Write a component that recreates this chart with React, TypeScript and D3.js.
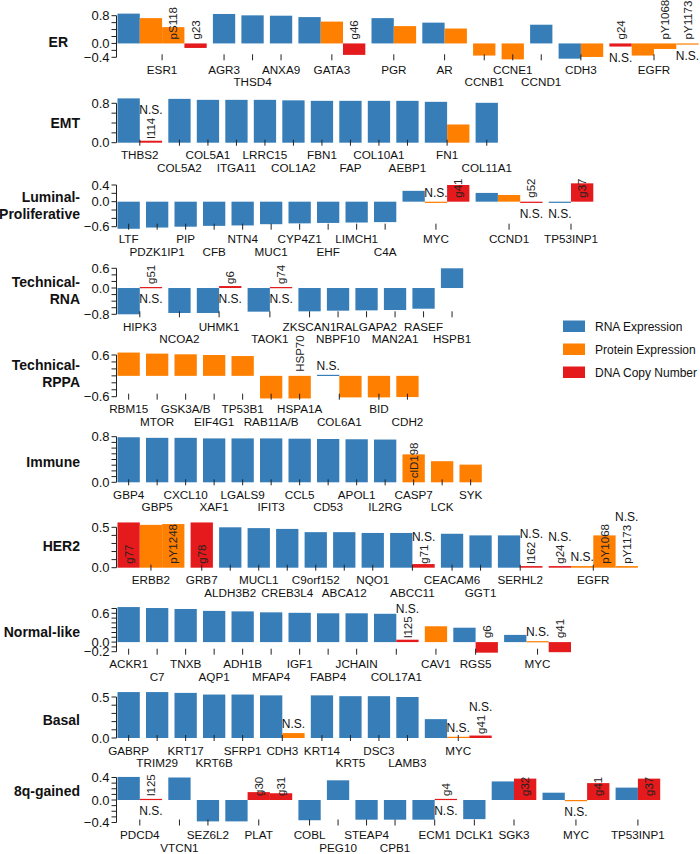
import React from "react";
import * as d3 from "d3";

type Kind = "RNA" | "Protein" | "DNA";
interface Bar { gene: string; kind: Kind; value: number; note?: string; ns?: "up" | "down"; }

// ---------------- DATA ----------------
const erGenes = ["ESR1", "AGR3", "THSD4", "ANXA9", "GATA3", "PGR", "AR", "CCNB1", "CCNE1", "CCND1", "CDH3", "EGFR"];
const erBars: Bar[] = [
  { gene: "ESR1", kind: "RNA", value: 0.86 },
  { gene: "ESR1", kind: "Protein", value: 0.73 },
  { gene: "ESR1", kind: "Protein", value: 0.47, note: "pS118" },
  { gene: "ESR1", kind: "DNA", value: -0.13, note: "g23" },
  { gene: "AGR3", kind: "RNA", value: 0.85 },
  { gene: "THSD4", kind: "RNA", value: 0.81 },
  { gene: "ANXA9", kind: "RNA", value: 0.8 },
  { gene: "GATA3", kind: "RNA", value: 0.76 },
  { gene: "GATA3", kind: "Protein", value: 0.63 },
  { gene: "GATA3", kind: "DNA", value: -0.33, note: "g46" },
  { gene: "PGR", kind: "RNA", value: 0.73 },
  { gene: "PGR", kind: "Protein", value: 0.5 },
  { gene: "AR", kind: "RNA", value: 0.6 },
  { gene: "AR", kind: "Protein", value: 0.43 },
  { gene: "CCNB1", kind: "Protein", value: -0.35 },
  { gene: "CCNE1", kind: "Protein", value: -0.46 },
  { gene: "CCND1", kind: "RNA", value: 0.54 },
  { gene: "CDH3", kind: "RNA", value: -0.44 },
  { gene: "CDH3", kind: "Protein", value: -0.39 },
  { gene: "EGFR", kind: "DNA", value: -0.09, note: "g24", ns: "down" },
  { gene: "EGFR", kind: "Protein", value: -0.35 },
  { gene: "EGFR", kind: "Protein", value: -0.16, note: "pY1068" },
  { gene: "EGFR", kind: "Protein", value: -0.03, note: "pY1173", ns: "down" },
];
const erTicks = [-0.4, -0.2, 0, 0.2, 0.4, 0.6, 0.8];
const erTickLabels = [-0.4, 0, 0.8];
const erLowerLabels = ["THSD4", "CCNB1", "CCND1"];

const emtGenes = ["THBS2", "COL5A2", "COL5A1", "ITGA11", "LRRC15", "COL1A2", "FBN1", "FAP", "COL10A1", "AEBP1", "FN1", "COL11A1"];
const emtBars: Bar[] = [
  { gene: "THBS2", kind: "RNA", value: 0.9 },
  { gene: "THBS2", kind: "DNA", value: 0.04, note: "l114", ns: "up" },
  { gene: "COL5A2", kind: "RNA", value: 0.89 },
  { gene: "COL5A1", kind: "RNA", value: 0.87 },
  { gene: "ITGA11", kind: "RNA", value: 0.87 },
  { gene: "LRRC15", kind: "RNA", value: 0.87 },
  { gene: "COL1A2", kind: "RNA", value: 0.86 },
  { gene: "FBN1", kind: "RNA", value: 0.85 },
  { gene: "FAP", kind: "RNA", value: 0.85 },
  { gene: "COL10A1", kind: "RNA", value: 0.85 },
  { gene: "AEBP1", kind: "RNA", value: 0.85 },
  { gene: "FN1", kind: "RNA", value: 0.83 },
  { gene: "FN1", kind: "Protein", value: 0.37 },
  { gene: "COL11A1", kind: "RNA", value: 0.81 },
];
const emtTicks = [0, 0.2, 0.4, 0.6, 0.8];
const emtTickLabels = [0, 0.8];
const emtLowerLabels = ["COL5A2", "ITGA11", "COL1A2", "FAP", "AEBP1", "COL11A1"];

const lumGenes = ["LTF", "PDZK1IP1", "PIP", "CFB", "NTN4", "MUC1", "CYP4Z1", "EHF", "LIMCH1", "C4A", "MYC", "CCND1", "TP53INP1"];
const lumBars: Bar[] = [
  { gene: "LTF", kind: "RNA", value: -0.65 },
  { gene: "PDZK1IP1", kind: "RNA", value: -0.62 },
  { gene: "PIP", kind: "RNA", value: -0.6 },
  { gene: "CFB", kind: "RNA", value: -0.58 },
  { gene: "NTN4", kind: "RNA", value: -0.57 },
  { gene: "MUC1", kind: "RNA", value: -0.54 },
  { gene: "CYP4Z1", kind: "RNA", value: -0.52 },
  { gene: "EHF", kind: "RNA", value: -0.51 },
  { gene: "LIMCH1", kind: "RNA", value: -0.5 },
  { gene: "C4A", kind: "RNA", value: -0.49 },
  { gene: "MYC", kind: "RNA", value: 0.26 },
  { gene: "MYC", kind: "Protein", value: -0.03, ns: "up" },
  { gene: "MYC", kind: "DNA", value: 0.4, note: "g41" },
  { gene: "CCND1", kind: "RNA", value: 0.21 },
  { gene: "CCND1", kind: "Protein", value: 0.16 },
  { gene: "CCND1", kind: "DNA", value: -0.03, note: "g52", ns: "down" },
  { gene: "TP53INP1", kind: "RNA", value: -0.02, ns: "down" },
  { gene: "TP53INP1", kind: "DNA", value: 0.44, note: "g37" },
];
const lumTicks = [-0.6, -0.4, -0.2, 0, 0.2, 0.4];
const lumTickLabels = [-0.6, 0, 0.4];
const lumLowerLabels = ["PDZK1IP1", "CFB", "MUC1", "EHF", "C4A"];

const rnaGenes = ["HIPK3", "NCOA2", "UHMK1", "TAOK1", "ZKSCAN1", "NBPF10", "RALGAPA2", "MAN2A1", "RASEF", "HSPB1"];
const rnaBars: Bar[] = [
  { gene: "HIPK3", kind: "RNA", value: -0.8 },
  { gene: "HIPK3", kind: "DNA", value: 0.03, note: "g51", ns: "down" },
  { gene: "NCOA2", kind: "RNA", value: -0.76 },
  { gene: "UHMK1", kind: "RNA", value: -0.76 },
  { gene: "UHMK1", kind: "DNA", value: 0.06, note: "g6", ns: "down" },
  { gene: "TAOK1", kind: "RNA", value: -0.72 },
  { gene: "TAOK1", kind: "DNA", value: 0.03, note: "g74", ns: "down" },
  { gene: "ZKSCAN1", kind: "RNA", value: -0.71 },
  { gene: "NBPF10", kind: "RNA", value: -0.69 },
  { gene: "RALGAPA2", kind: "RNA", value: -0.68 },
  { gene: "MAN2A1", kind: "RNA", value: -0.67 },
  { gene: "RASEF", kind: "RNA", value: -0.63 },
  { gene: "HSPB1", kind: "RNA", value: 0.6 },
];
const rnaTicks = [-0.8, -0.6, -0.4, -0.2, 0, 0.2, 0.4, 0.6];
const rnaTickLabels = [-0.8, 0, 0.6];
const rnaLowerLabels = ["NCOA2", "TAOK1", "NBPF10", "MAN2A1", "HSPB1"];

const rppaGenes = ["RBM15", "MTOR", "GSK3A/B", "EIF4G1", "TP53B1", "RAB11A/B", "HSPA1A", "COL6A1", "BID", "CDH2"];
const rppaBars: Bar[] = [
  { gene: "RBM15", kind: "Protein", value: 0.67 },
  { gene: "MTOR", kind: "Protein", value: 0.64 },
  { gene: "GSK3A/B", kind: "Protein", value: 0.62 },
  { gene: "EIF4G1", kind: "Protein", value: 0.6 },
  { gene: "TP53B1", kind: "Protein", value: 0.57 },
  { gene: "RAB11A/B", kind: "Protein", value: -0.65 },
  { gene: "HSPA1A", kind: "Protein", value: -0.65, note: "HSP70" },
  { gene: "COL6A1", kind: "RNA", value: 0.03, ns: "up" },
  { gene: "COL6A1", kind: "Protein", value: -0.62 },
  { gene: "BID", kind: "Protein", value: -0.62 },
  { gene: "CDH2", kind: "Protein", value: -0.61 },
];
const rppaTicks = [-0.6, -0.4, -0.2, 0, 0.2, 0.4, 0.6];
const rppaTickLabels = [-0.6, 0.6];
const rppaLowerLabels = ["MTOR", "EIF4G1", "RAB11A/B", "COL6A1", "CDH2"];

const immGenes = ["GBP4", "GBP5", "CXCL10", "XAF1", "LGALS9", "IFIT3", "CCL5", "CD53", "APOL1", "IL2RG", "CASP7", "LCK", "SYK"];
const immBars: Bar[] = [
  { gene: "GBP4", kind: "RNA", value: 0.79 },
  { gene: "GBP5", kind: "RNA", value: 0.78 },
  { gene: "CXCL10", kind: "RNA", value: 0.78 },
  { gene: "XAF1", kind: "RNA", value: 0.77 },
  { gene: "LGALS9", kind: "RNA", value: 0.77 },
  { gene: "IFIT3", kind: "RNA", value: 0.77 },
  { gene: "CCL5", kind: "RNA", value: 0.765 },
  { gene: "CD53", kind: "RNA", value: 0.76 },
  { gene: "APOL1", kind: "RNA", value: 0.755 },
  { gene: "IL2RG", kind: "RNA", value: 0.75 },
  { gene: "CASP7", kind: "Protein", value: 0.49, note: "clD198" },
  { gene: "LCK", kind: "Protein", value: 0.37 },
  { gene: "SYK", kind: "Protein", value: 0.31 },
];
const immTicks = [0, 0.1, 0.2, 0.3, 0.4, 0.5, 0.6, 0.7, 0.8];
const immTickLabels = [0, 0.8];
const immLowerLabels = ["GBP5", "XAF1", "IFIT3", "CD53", "IL2RG", "LCK"];

const her2Genes = ["ERBB2", "GRB7", "ALDH3B2", "MUCL1", "CREB3L4", "C9orf152", "ABCA12", "NQO1", "ABCC11", "CEACAM6", "GGT1", "SERHL2", "EGFR"];
const her2Bars: Bar[] = [
  { gene: "ERBB2", kind: "DNA", value: 0.56, note: "g77" },
  { gene: "ERBB2", kind: "Protein", value: 0.53 },
  { gene: "ERBB2", kind: "Protein", value: 0.54, note: "pY1248" },
  { gene: "GRB7", kind: "DNA", value: 0.56, note: "g78" },
  { gene: "ALDH3B2", kind: "RNA", value: 0.5 },
  { gene: "MUCL1", kind: "RNA", value: 0.49 },
  { gene: "CREB3L4", kind: "RNA", value: 0.48 },
  { gene: "C9orf152", kind: "RNA", value: 0.44 },
  { gene: "ABCA12", kind: "RNA", value: 0.44 },
  { gene: "NQO1", kind: "RNA", value: 0.43 },
  { gene: "ABCC11", kind: "RNA", value: 0.43 },
  { gene: "ABCC11", kind: "DNA", value: 0.045, note: "g71", ns: "up" },
  { gene: "CEACAM6", kind: "RNA", value: 0.42 },
  { gene: "GGT1", kind: "RNA", value: 0.4 },
  { gene: "SERHL2", kind: "RNA", value: 0.4 },
  { gene: "SERHL2", kind: "DNA", value: 0.02, note: "l162", ns: "up" },
  { gene: "EGFR", kind: "DNA", value: 0.02, note: "g24", ns: "up" },
  { gene: "EGFR", kind: "Protein", value: 0.02, ns: "up" },
  { gene: "EGFR", kind: "Protein", value: 0.4, note: "pY1068" },
  { gene: "EGFR", kind: "Protein", value: 0.02, note: "pY1173", ns: "up" },
];
const her2Ticks = [0, 0.1, 0.2, 0.3, 0.4, 0.5];
const her2TickLabels = [0, 0.5];
const her2LowerLabels = ["ALDH3B2", "CREB3L4", "ABCA12", "ABCC11", "GGT1"];

const normGenes = ["ACKR1", "C7", "TNXB", "AQP1", "ADH1B", "MFAP4", "IGF1", "FABP4", "JCHAIN", "COL17A1", "CAV1", "RGS5", "MYC"];
const normBars: Bar[] = [
  { gene: "ACKR1", kind: "RNA", value: 0.73 },
  { gene: "C7", kind: "RNA", value: 0.71 },
  { gene: "TNXB", kind: "RNA", value: 0.69 },
  { gene: "AQP1", kind: "RNA", value: 0.65 },
  { gene: "ADH1B", kind: "RNA", value: 0.64 },
  { gene: "MFAP4", kind: "RNA", value: 0.62 },
  { gene: "IGF1", kind: "RNA", value: 0.61 },
  { gene: "FABP4", kind: "RNA", value: 0.6 },
  { gene: "JCHAIN", kind: "RNA", value: 0.6 },
  { gene: "COL17A1", kind: "RNA", value: 0.59 },
  { gene: "COL17A1", kind: "DNA", value: 0.05, note: "l125", ns: "up" },
  { gene: "CAV1", kind: "Protein", value: 0.33 },
  { gene: "RGS5", kind: "RNA", value: 0.3 },
  { gene: "RGS5", kind: "DNA", value: -0.22, note: "g6" },
  { gene: "MYC", kind: "RNA", value: 0.15 },
  { gene: "MYC", kind: "Protein", value: 0.02, ns: "up" },
  { gene: "MYC", kind: "DNA", value: -0.21, note: "g41" },
];
const normTicks = [-0.2, -0.1, 0, 0.1, 0.2, 0.3, 0.4, 0.5, 0.6, 0.7];
const normTickLabels = [-0.2, 0, 0.6];
const normLowerLabels = ["C7", "AQP1", "MFAP4", "FABP4", "COL17A1"];

const basalGenes = ["GABRP", "TRIM29", "KRT17", "KRT6B", "SFRP1", "CDH3", "KRT14", "KRT5", "DSC3", "LAMB3", "MYC"];
const basalBars: Bar[] = [
  { gene: "GABRP", kind: "RNA", value: 0.56 },
  { gene: "TRIM29", kind: "RNA", value: 0.56 },
  { gene: "KRT17", kind: "RNA", value: 0.55 },
  { gene: "KRT6B", kind: "RNA", value: 0.53 },
  { gene: "SFRP1", kind: "RNA", value: 0.53 },
  { gene: "CDH3", kind: "RNA", value: 0.52 },
  { gene: "CDH3", kind: "Protein", value: 0.06, ns: "up" },
  { gene: "KRT14", kind: "RNA", value: 0.52 },
  { gene: "KRT5", kind: "RNA", value: 0.51 },
  { gene: "DSC3", kind: "RNA", value: 0.51 },
  { gene: "LAMB3", kind: "RNA", value: 0.5 },
  { gene: "MYC", kind: "RNA", value: 0.23 },
  { gene: "MYC", kind: "Protein", value: 0.015, ns: "up" },
  { gene: "MYC", kind: "DNA", value: 0.03, note: "g41", ns: "up" },
];
const basalTicks = [0, 0.1, 0.2, 0.3, 0.4, 0.5];
const basalTickLabels = [0, 0.5];
const basalLowerLabels = ["TRIM29", "KRT6B", "KRT5", "LAMB3"];

const q8Genes = ["PDCD4", "VTCN1", "SEZ6L2", "PLAT", "COBL", "PEG10", "STEAP4", "CPB1", "ECM1", "DCLK1", "SGK3", "MYC", "TP53INP1"];
const q8Bars: Bar[] = [
  { gene: "PDCD4", kind: "RNA", value: 0.41 },
  { gene: "PDCD4", kind: "DNA", value: 0.02, note: "l125", ns: "down" },
  { gene: "VTCN1", kind: "RNA", value: 0.4 },
  { gene: "SEZ6L2", kind: "RNA", value: -0.38 },
  { gene: "PLAT", kind: "RNA", value: -0.38 },
  { gene: "PLAT", kind: "DNA", value: 0.14, note: "g30" },
  { gene: "PLAT", kind: "DNA", value: 0.12, note: "g31" },
  { gene: "COBL", kind: "RNA", value: -0.36 },
  { gene: "PEG10", kind: "RNA", value: 0.35 },
  { gene: "STEAP4", kind: "RNA", value: -0.35 },
  { gene: "CPB1", kind: "RNA", value: -0.35 },
  { gene: "ECM1", kind: "RNA", value: -0.35 },
  { gene: "ECM1", kind: "DNA", value: 0.02, note: "g4", ns: "down" },
  { gene: "DCLK1", kind: "RNA", value: -0.34 },
  { gene: "SGK3", kind: "RNA", value: 0.33 },
  { gene: "SGK3", kind: "DNA", value: 0.38, note: "g32" },
  { gene: "MYC", kind: "RNA", value: 0.13 },
  { gene: "MYC", kind: "Protein", value: -0.02, ns: "down" },
  { gene: "MYC", kind: "DNA", value: 0.3, note: "g41" },
  { gene: "TP53INP1", kind: "RNA", value: 0.22 },
  { gene: "TP53INP1", kind: "DNA", value: 0.38, note: "g37" },
];
const q8Ticks = [-0.4, -0.3, -0.2, -0.1, 0, 0.1, 0.2, 0.3, 0.4];
const q8TickLabels = [-0.4, 0, 0.4];
const q8LowerLabels = ["VTCN1", "PEG10", "CPB1"];

const legendKinds: Kind[] = ["RNA", "Protein", "DNA"];
const legendNames = ["RNA Expression", "Protein Expression", "DNA Copy Number"];

// ---------------- LAYOUT / STYLE ----------------
const COLORS: Record<Kind, string> = { RNA: "#377EB8", Protein: "#FF7F00", DNA: "#E41A1C" };
const FONT = "'Liberation Sans', Arial, Helvetica, sans-serif";
const BAR_W = 22.3;
const GAP = 6.2;
const X0 = 117.5;
const AXIS_X = 116.5;

interface Panel {
  title: string[]; genes: string[]; bars: Bar[]; ticks: number[]; tickLabels: number[]; lower: string[];
  top: number; bottom: number; titleY: number; titleX?: number;
}

const panels: Panel[] = [
  { title: ["ER"], genes: erGenes, bars: erBars, ticks: erTicks, tickLabels: erTickLabels, lower: erLowerLabels, top: 15.7, bottom: 57.3, titleY: 42.5, titleX: 68 },
  { title: ["EMT"], genes: emtGenes, bars: emtBars, ticks: emtTicks, tickLabels: emtTickLabels, lower: emtLowerLabels, top: 103.3, bottom: 142.7, titleY: 122.7 },
  { title: ["Luminal-", "Proliferative"], genes: lumGenes, bars: lumBars, ticks: lumTicks, tickLabels: lumTickLabels, lower: lumLowerLabels, top: 185, bottom: 226.7, titleY: 206 },
  { title: ["Technical-", "RNA"], genes: rnaGenes, bars: rnaBars, ticks: rnaTicks, tickLabels: rnaTickLabels, lower: rnaLowerLabels, top: 268.3, bottom: 314.3, titleY: 290.3 },
  { title: ["Technical-", "RPPA"], genes: rppaGenes, bars: rppaBars, ticks: rppaTicks, tickLabels: rppaTickLabels, lower: rppaLowerLabels, top: 355, bottom: 396.7, titleY: 373.7 },
  { title: ["Immune"], genes: immGenes, bars: immBars, ticks: immTicks, tickLabels: immTickLabels, lower: immLowerLabels, top: 436.7, bottom: 482.3, titleY: 461.7 },
  { title: ["HER2"], genes: her2Genes, bars: her2Bars, ticks: her2Ticks, tickLabels: her2TickLabels, lower: her2LowerLabels, top: 527.3, bottom: 567.7, titleY: 546 },
  { title: ["Normal-like"], genes: normGenes, bars: normBars, ticks: normTicks, tickLabels: normTickLabels, lower: normLowerLabels, top: 608.5, bottom: 651.7, titleY: 631.7 },
  { title: ["Basal"], genes: basalGenes, bars: basalBars, ticks: basalTicks, tickLabels: basalTickLabels, lower: basalLowerLabels, top: 697, bottom: 738, titleY: 720.3 },
  { title: ["8q-gained"], genes: q8Genes, bars: q8Bars, ticks: q8Ticks, tickLabels: q8TickLabels, lower: q8LowerLabels, top: 777.5, bottom: 822.5, titleY: 791 },
];

let measureCtx: CanvasRenderingContext2D | null = null;
function textWidth(s: string, size: number): number {
  if (!measureCtx) measureCtx = document.createElement("canvas").getContext("2d");
  if (!measureCtx) return s.length * size * 0.6;
  measureCtx.font = `${size}px ${FONT}`;
  return measureCtx.measureText(s).width;
}

const fmt = (v: number) => (v < 0 ? "\u2212" : "") + Math.abs(v).toFixed(1);

function PanelView({ p }: { p: Panel }) {
  const y = d3.scaleLinear().domain([d3.min(p.ticks)!, d3.max(p.ticks)!]).range([p.bottom, p.top]);
  const x = d3.scaleLinear().domain([0, 1]).range([X0, X0 + BAR_W]);
  const gapUnits = GAP / BAR_W;
  const y0 = y(0);

  const placed = p.bars.map((b, i) => {
    const g = p.genes.indexOf(b.gene);
    const u = i + g * gapUnits;
    return { ...b, left: x(u), right: x(u + 1), cx: x(u + 0.5) };
  });
  const groups = p.genes.map((gene) => {
    const bs = placed.filter((b) => b.gene === gene);
    const cx = (d3.min(bs, (b) => b.left)! + d3.max(bs, (b) => b.right)!) / 2;
    return { gene, cx };
  });

  const nsFont = 12;
  const noteFont = 11.5;
  const titleX = p.titleX ?? 80;

  return (
    <g>
      {p.title.map((t, i) => (
        <text key={t} x={titleX} y={p.titleY + (i - (p.title.length - 1) / 2) * 17} dy="0.35em" textAnchor="end"
          fontWeight="bold" fontSize={14} fontFamily={FONT} fill="#111">{t}</text>
      ))}
      <line x1={AXIS_X} x2={AXIS_X} y1={y(d3.max(p.ticks)!)} y2={y(d3.min(p.ticks)!)} stroke="#222" strokeWidth={1} />
      {p.ticks.map((t) => (
        <line key={t} x1={AXIS_X - 5} x2={AXIS_X} y1={y(t)} y2={y(t)} stroke="#222" strokeWidth={1} />
      ))}
      {p.tickLabels.map((t) => (
        <text key={t} x={AXIS_X - 7} y={y(t)} dy="0.36em" textAnchor="end" fontSize={13} fontFamily={FONT} fill="#111">{fmt(t)}</text>
      ))}
      {placed.map((b, i) => (
        <rect key={i} x={b.left} width={b.right - b.left} y={Math.min(y(b.value), y0)} height={Math.max(Math.abs(y(b.value) - y0), 1.2)}
          fill={COLORS[b.kind]} />
      ))}
      {placed.map((b, i) => b.note ? (
        <text key={"n" + i} transform={`translate(${b.cx},${y0 - 4}) rotate(-90)`} dy="0.36em" textAnchor="start"
          fontSize={noteFont} fontFamily={FONT} fill="#222">{b.note}</text>
      ) : null)}
      {placed.map((b, i) => {
        if (!b.ns) return null;
        let cy: number;
        if (b.ns === "down") {
          cy = Math.max(y0, y(b.value)) + 11;
        } else if (b.note) {
          cy = y0 - 4 - textWidth(b.note, noteFont) - 8;
        } else {
          cy = Math.min(y0, y(b.value)) - 9;
        }
        return (
          <text key={"s" + i} x={b.cx} y={cy} dy="0.36em" textAnchor="middle" fontSize={nsFont} fontFamily={FONT} fill="#111">N.S.</text>
        );
      })}
      {groups.map((g) => (
        <g key={g.gene}>
          <line x1={g.cx} x2={g.cx} y1={p.bottom - 3} y2={p.bottom + 3} stroke="#222" strokeWidth={1} />
          <text x={g.cx} y={p.bottom + (p.lower.includes(g.gene) ? 29 : 16.5)} textAnchor="middle" fontSize={11.7}
            fontFamily={FONT} fill="#111">{g.gene}</text>
        </g>
      ))}
    </g>
  );
}

export default function App() {
  return (
    <svg width={700} height={854} style={{ position: "absolute", left: 0, top: 0, background: "#fff" }}>
      <rect width={700} height={854} fill="#fff" />
      {panels.map((p) => <PanelView key={p.title.join("")} p={p} />)}
      {legendKinds.map((k, i) => (
        <g key={k}>
          <rect x={563} y={320.5 + i * 23} width={22} height={11.5} fill={COLORS[k]} />
          <text x={595} y={326.3 + i * 23} dy="0.36em" fontSize={12} fontFamily={FONT} fill="#111">{legendNames[i]}</text>
        </g>
      ))}
    </svg>
  );
}
